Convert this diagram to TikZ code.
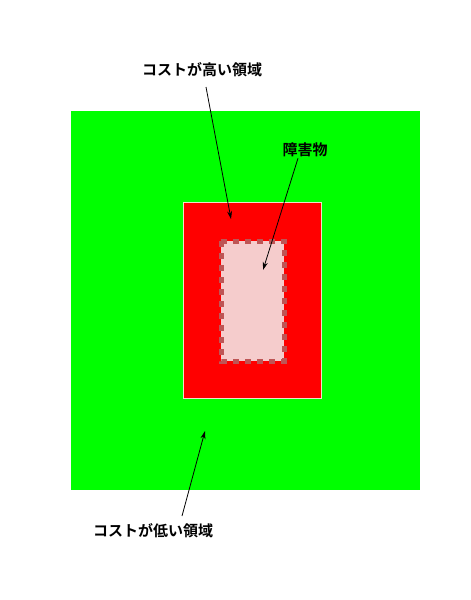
\documentclass[tikz,border=0pt]{standalone}
\usepackage{fontspec}
\newfontfamily\jpfont{Noto Sans CJK JP}[BoldFont={Noto Sans CJK JP Bold}]
\usetikzlibrary{arrows.meta,calc}

\definecolor{lowcost}{RGB}{0,255,0}
\definecolor{highcost}{RGB}{255,0,0}
\definecolor{obstfill}{RGB}{245,204,204}
\definecolor{obstline}{RGB}{190,85,85}
\definecolor{rim}{RGB}{240,225,200}

\tikzset{
  label/.style={font=\jpfont\bfseries\fontsize{15}{18}\selectfont,inner sep=1pt},
  pointer/.style={-{Stealth[length=8pt,width=5pt]},line width=0.8pt,color=black}
}

\begin{document}
\begin{tikzpicture}[x=1pt,y=-1pt]
\useasboundingbox (0,0) rectangle (471,600);

% Step 1
\fill[lowcost] (71,111) rectangle (420,490);

% Step 2
\filldraw[fill=highcost,draw=rim,line width=1pt] (183,202) rectangle (321,398);

% Step 3
\filldraw[fill=obstfill,draw=obstline,line width=5pt,dash pattern=on 6pt off 6pt] (221,241) rectangle (284,361);

\node[label] (high) at (202,70) {コストが高い領域};
\node[label] (obst) at (305,150) {障害物};
\node[label] (low) at (153,531) {コストが低い領域};

\coordinate (highend) at (231,219);
\coordinate (obstend) at (263,270);
\coordinate (lowend) at (205,431);

\draw[pointer] (206,87) -- (highend);
\draw[pointer] (obst.south) ++(-7,0) -- (obstend);
\draw[pointer] (182,516) -- (lowend);

\end{tikzpicture}
\end{document}
